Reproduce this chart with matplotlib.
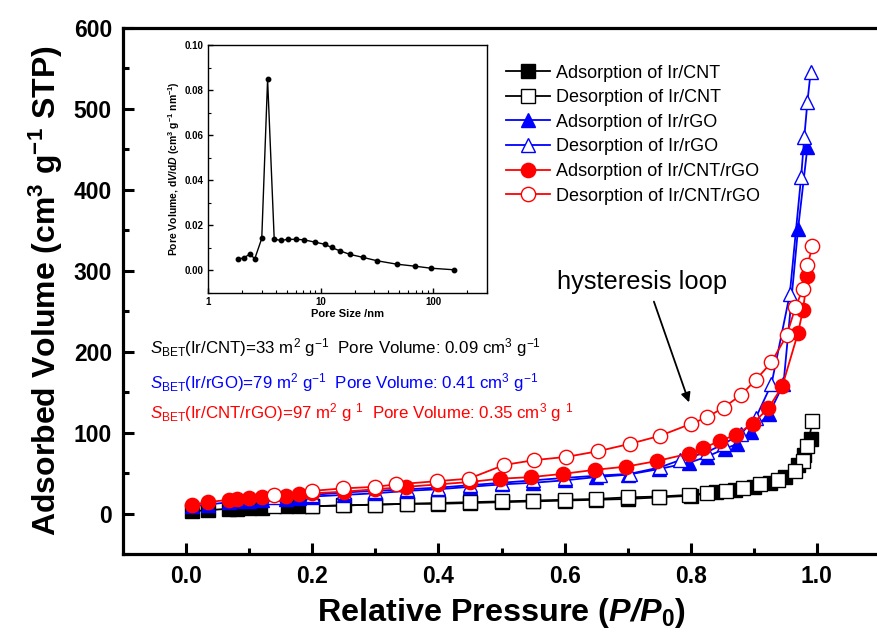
import matplotlib
matplotlib.use("Agg")
import matplotlib.pyplot as plt
from matplotlib.ticker import MultipleLocator, FixedLocator, NullFormatter, FormatStrFormatter

plt.rcParams['font.family'] = ['Liberation Sans', 'DejaVu Sans']
plt.rcParams['mathtext.fontset'] = 'custom'
plt.rcParams['mathtext.rm'] = 'Liberation Sans'
plt.rcParams['mathtext.it'] = 'Liberation Sans:italic'
plt.rcParams['mathtext.bf'] = 'Liberation Sans:bold'
plt.rcParams['mathtext.bfit'] = 'Liberation Sans:bold:italic'

# ---- N2 isotherms ----
cnt_ads_p = [0.01, 0.034, 0.068, 0.08, 0.10, 0.12, 0.158, 0.179, 0.20, 0.25, 0.30, 0.35, 0.40,
             0.45, 0.50, 0.55, 0.60, 0.65, 0.70, 0.75, 0.80, 0.84, 0.87, 0.90, 0.926, 0.95,
             0.97, 0.98, 0.99]
cnt_ads_v = [3, 4, 6, 6, 7, 7, 9, 9, 9, 10, 11, 12, 12, 13, 14, 15, 16, 17, 18, 20, 22, 26,
             29, 33, 38, 45, 60, 72, 92]
cnt_des_p = [0.993, 0.985, 0.978, 0.965, 0.939, 0.91, 0.883, 0.856, 0.825, 0.798, 0.75, 0.70,
             0.65, 0.60, 0.55, 0.50, 0.45, 0.40, 0.35, 0.30, 0.248, 0.20, 0.14]
cnt_des_v = [114, 83, 65, 52, 41, 36, 32, 28, 25, 23, 21, 20, 18, 17, 16, 15, 14, 13, 12, 11,
             10, 9, 9]

rgo_ads_p = [0.01, 0.034, 0.068, 0.08, 0.10, 0.12, 0.158, 0.179, 0.20, 0.25, 0.30, 0.35, 0.40,
             0.45, 0.50, 0.55, 0.60, 0.65, 0.70, 0.75, 0.798, 0.825, 0.854, 0.874, 0.896,
             0.924, 0.947, 0.97, 0.985]
rgo_ads_v = [9, 11, 14, 15, 16, 17, 18, 19, 21, 23, 25, 28, 30, 33, 36, 38, 41, 45, 48, 55,
             63, 70, 80, 86, 101, 123, 160, 351, 453]
rgo_des_p = [0.99, 0.985, 0.98, 0.975, 0.957, 0.928, 0.903, 0.879, 0.852, 0.826, 0.783, 0.751,
             0.703, 0.656, 0.60, 0.55, 0.50, 0.45, 0.40, 0.35, 0.30, 0.25, 0.20, 0.14]
rgo_des_v = [545, 509, 465, 416, 271, 160, 118, 98, 86, 76, 66, 57, 49, 47, 44, 41, 38, 35, 32,
             30, 28, 26, 23, 20]

mix_ads_p = [0.01, 0.034, 0.068, 0.08, 0.099, 0.12, 0.158, 0.179, 0.20, 0.25, 0.30, 0.349, 0.40,
             0.45, 0.497, 0.547, 0.597, 0.648, 0.698, 0.747, 0.797, 0.82, 0.847, 0.871, 0.898,
             0.923, 0.945, 0.97, 0.978, 0.985]
mix_ads_v = [11, 14, 17, 18, 19, 21, 22, 24, 25, 27, 30, 33, 36, 39, 43, 45, 49, 54, 58, 65, 74,
             81, 90, 97, 111, 130, 157, 223, 252, 293]
mix_des_p = [0.993, 0.985, 0.978, 0.966, 0.952, 0.928, 0.903, 0.879, 0.852, 0.826, 0.801, 0.751,
             0.703, 0.653, 0.603, 0.552, 0.504, 0.448, 0.398, 0.333, 0.30, 0.248, 0.20, 0.14]
mix_des_v = [330, 307, 278, 255, 220, 187, 165, 146, 131, 119, 111, 96, 86, 77, 70, 66, 60, 43,
             40, 36, 33, 31, 28, 23]

# ---- BJH pore size distribution (inset) ----
pore_size = [1.83, 2.09, 2.35, 2.60, 3.0, 3.38, 3.87, 4.44, 5.13, 6.01, 7.09, 8.84, 10.9, 12.5,
             14.8, 18.3, 23.8, 31.7, 47.3, 68.5, 95.3, 153]
pore_dvdd = [0.0050, 0.0056, 0.0073, 0.0052, 0.0142, 0.0847, 0.0139, 0.0133, 0.0138, 0.0138,
             0.0136, 0.0126, 0.0116, 0.0102, 0.0087, 0.0071, 0.0058, 0.0043, 0.0028, 0.0019,
             0.0010, 0.0003]

legend_labels = ["Adsorption of Ir/CNT", "Desorption of Ir/CNT",
                 "Adsorption of Ir/rGO", "Desorption of Ir/rGO",
                 "Adsorption of Ir/CNT/rGO", "Desorption of Ir/CNT/rGO"]

W, H = 877, 642
fig = plt.figure(figsize=(W / 100, H / 100), dpi=100)
ax = fig.add_axes([0.1403, 0.1371, 0.8631, 0.8193])

ms = 9.8
lw = 1.3
ax.plot(cnt_ads_p, cnt_ads_v, '-s', color='black', mfc='black', mec='black', ms=ms, lw=lw,
        label=legend_labels[0], zorder=3)
ax.plot(cnt_des_p, cnt_des_v, '-s', color='black', mfc='white', mec='black', ms=ms, lw=lw,
        label=legend_labels[1], zorder=3)
ax.plot(rgo_ads_p, rgo_ads_v, '-^', color='blue', mfc='blue', mec='blue', ms=ms, lw=lw,
        label=legend_labels[2], zorder=4)
ax.plot(rgo_des_p, rgo_des_v, '-^', color='blue', mfc='white', mec='blue', ms=ms, lw=lw,
        label=legend_labels[3], zorder=4)
ax.plot(mix_ads_p, mix_ads_v, '-o', color='red', mfc='red', mec='red', ms=ms + 0.5, lw=lw,
        label=legend_labels[4], zorder=5)
ax.plot(mix_des_p, mix_des_v, '-o', color='red', mfc='white', mec='red', ms=ms + 0.5, lw=lw,
        label=legend_labels[5], zorder=5)

ax.set_xlim(-0.1, 1.1)
ax.set_ylim(-50, 600)
ax.xaxis.set_major_locator(FixedLocator([0.0, 0.2, 0.4, 0.6, 0.8, 1.0]))
ax.xaxis.set_minor_locator(FixedLocator([0.1, 0.3, 0.5, 0.7, 0.9]))
ax.set_yticks([0, 100, 200, 300, 400, 500, 600])
ax.yaxis.set_minor_locator(MultipleLocator(50))
ax.tick_params(which='major', direction='in', length=8, width=2.2, labelsize=16.5, pad=8)
ax.tick_params(which='minor', direction='in', length=4.5, width=2.2)
for lab in ax.get_xticklabels() + ax.get_yticklabels():
    lab.set_fontweight('bold')
for sp in ax.spines.values():
    sp.set_linewidth(2.3)

ax.set_xlabel(r"Relative Pressure ($\mathbfit{P/P}_{\mathbf{0}}$)", fontsize=23.3,
              fontweight='bold', labelpad=6)
ax.set_ylabel(r"Adsorbed Volume (cm$^{\mathbf{3}}$ g$^{\mathbf{-1}}$ STP)", fontsize=23,
              fontweight='bold', labelpad=6)

ax.legend(loc='upper left', bbox_to_anchor=(493 / W, 1 - 52 / H), bbox_transform=fig.transFigure,
          frameon=False, fontsize=13, handlelength=2.45, handletextpad=0.35,
          labelspacing=0.42, borderpad=0.2)

fig.text(557 / W, 1 - 282 / H, "hysteresis loop", fontsize=18.4, va='center', ha='left')
ax.annotate("", xy=(690 / W, 1 - 405 / H), xycoords='figure fraction',
            xytext=(653 / W, 1 - 299 / H), textcoords='figure fraction',
            arrowprops=dict(arrowstyle='-|>', color='black', lw=1.3, mutation_scale=14))

sbet_texts = [
    (r"$\mathit{S}_{\mathrm{BET}}$(Ir/CNT)=33 m$^{2}$ g$^{-1}$  Pore Volume: 0.09 cm$^{3}$ g$^{-1}$", 'black', 348),
    (r"$\mathit{S}_{\mathrm{BET}}$(Ir/rGO)=79 m$^{2}$ g$^{-1}$  Pore Volume: 0.41 cm$^{3}$ g$^{-1}$", 'blue', 383),
    (r"$\mathit{S}_{\mathrm{BET}}$(Ir/CNT/rGO)=97 m$^{2}$ g $^{1}$  Pore Volume: 0.35 cm$^{3}$ g $^{1}$", 'red', 413),
]
for txt, col, ypx in sbet_texts:
    fig.text(150 / W, 1 - ypx / H, txt, color=col, fontsize=12.2, va='center', ha='left')

# ---- inset: pore size distribution ----
ins = fig.add_axes([0.2372, 0.5436, 0.3181, 0.3863])
ins.plot(pore_size, pore_dvdd, '-o', color='black', ms=3.2, lw=1.0)
ins.set_xscale('log')
ins.set_xlim(1, 300)
ins.set_ylim(-0.01, 0.10)
ins.set_yticks([0.00, 0.02, 0.04, 0.06, 0.08, 0.10])
ins.yaxis.set_minor_locator(MultipleLocator(0.01))
ins.set_xticks([1, 10, 100])
ins.set_xticklabels(["1", "10", "100"])
ins.yaxis.set_major_formatter(FormatStrFormatter('%.2f'))
ins.xaxis.set_minor_formatter(NullFormatter())
ins.tick_params(which='major', direction='in', length=3.5, width=1, labelsize=7, pad=3)
ins.tick_params(which='minor', direction='in', length=2, width=0.8)
for lab in ins.get_xticklabels() + ins.get_yticklabels():
    lab.set_fontweight('bold')
for sp in ins.spines.values():
    sp.set_linewidth(1.0)
ins.set_xlabel("Pore Size /nm", fontsize=8, fontweight='bold', labelpad=1)
ins.set_ylabel(r"Pore Volume, d$\mathbfit{V}$/d$\mathbfit{D}$ (cm$^{\mathbf{3}}$ g$^{\mathbf{-1}}$ nm$^{\mathbf{-1}}$)",
               fontsize=7.5, fontweight='bold', labelpad=2)

fig.savefig("out.png", dpi=100)
